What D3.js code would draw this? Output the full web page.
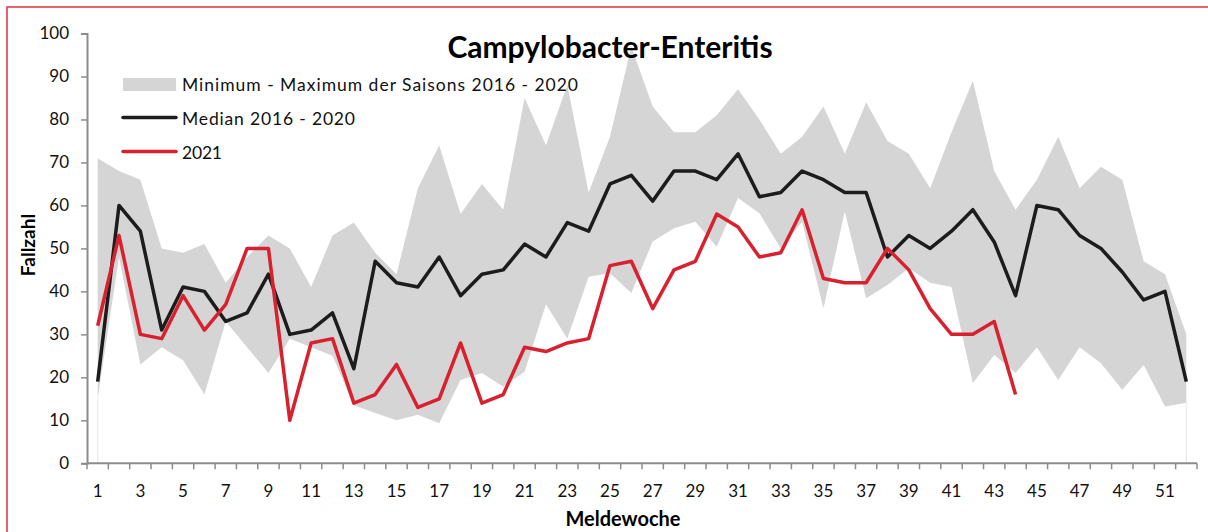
<!DOCTYPE html>
<html><head><meta charset="utf-8">
<script src="https://cdn.jsdelivr.net/npm/d3@7/dist/d3.min.js"></script>
<style>body{margin:0;background:#fff;}svg{display:block;}</style>
</head><body>
<script>
const weeks = d3.range(1, 53);
const tickLabels = weeks.filter(w => w % 2 === 1);
const maxValues = [71,68,66,50,49,51,42,48,53,50,41,53,56,49,44,64,74,58,65,59,85,74,88,63,76,97,83,77,77,81,87,80,72,76,83,72,84,75,72,64,77,89,68,59,66,76,64,69,66,47,44,30];
const minValues = [15,48,23,27,24,16,33,27,21,29,27,25,13.5,11.7,10,11.3,9.3,19.4,21,17.8,21.3,37,29,43.4,44.2,39.6,51.6,54.7,56.2,50.4,61.7,58.2,50,56.2,36,58.6,38.4,41.5,45.4,42,41,18.6,25.2,21,27,19.4,27,23.3,17.1,22.9,13.2,14.1];
const medianValues = [19,60,54,31,41,40,33,35,44,30,31,35,22,47,42,41,48,39,44,45,51,48,56,54,65,67,61,68,68,66,72,62,63,68,66,63,63,48,53,50,54,59,51.5,39,60,59,53,50,44.5,38,40,19];
const values2021 = [32,53,30,29,39,31,37,50,50,10,28,29,14,16,23,13,15,28,14,16,27,26,28,29,46,47,36,45,47,58,55,48,49,59,43,42,42,50,45,36,30,30,33,16];
const yTicks = d3.range(0, 101, 10);
const legendLabels = ["Minimum - Maximum der Saisons 2016 - 2020", "Median 2016 - 2020", "2021"];

const W = 1208, H = 532;
const svg = d3.select("body").append("svg").attr("width", W).attr("height", H);
const font = "Lato, 'Open Sans', sans-serif";

// border
svg.append("rect").attr("x", 7).attr("y", 7).attr("width", W + 10).attr("height", H + 10)
  .attr("fill", "none").attr("stroke", "#e0303f").attr("stroke-width", 1.5);

const x = d3.scaleBand().domain(weeks).range([87, 1197]).paddingInner(0).paddingOuter(0);
const xc = w => x(w) + x.bandwidth() / 2;
const y = d3.scaleLinear().domain([0, 100]).range([463.3, 33.5]);

// range area
const area = d3.area().x((d, i) => xc(weeks[i])).y0((d, i) => y(minValues[i])).y1((d, i) => y(maxValues[i]));
svg.append("path").datum(maxValues).attr("d", area).attr("fill", "#d5d5d5");
// faint end lines
[1, 52].forEach(w => {
  const i = weeks.indexOf(w);
  svg.append("line").attr("x1", xc(w)).attr("x2", xc(w)).attr("y1", y(0)).attr("y2", y(minValues[i]))
    .attr("stroke", "#e6e6e6").attr("stroke-width", 1);
});

// axes
const axisColor = "#8c8c8c";
const yAxis = svg.append("g").attr("transform", "translate(87,0)")
  .call(d3.axisLeft(y).tickValues(yTicks).tickSize(6).tickPadding(12));
const xAxis = svg.append("g").attr("transform", `translate(0,${y(0)})`);
xAxis.append("line").attr("x1", 87).attr("x2", 1197).attr("stroke", axisColor).attr("stroke-width", 2);
xAxis.selectAll("line.tk").data(weeks.concat([53])).enter().append("line")
  .attr("x1", w => w === 53 ? 1197 : x(w)).attr("x2", w => w === 53 ? 1197 : x(w))
  .attr("y1", 0).attr("y2", 6).attr("stroke", axisColor).attr("stroke-width", 1.5);
xAxis.selectAll("text").data(tickLabels).enter().append("text")
  .attr("x", w => xc(w)).attr("y", 34).attr("text-anchor", "middle")
  .attr("font-family", font).attr("font-size", 17).attr("fill", "#111").text(w => w);
yAxis.select(".domain").attr("stroke", axisColor).attr("stroke-width", 2);
yAxis.selectAll(".tick line").attr("stroke", axisColor).attr("stroke-width", 1.5);
yAxis.selectAll(".tick text").attr("font-family", font).attr("font-size", 17).attr("fill", "#111");

// lines
const line = d3.line().x((d, i) => xc(weeks[i])).y(d => y(d));
svg.append("path").datum(medianValues).attr("d", line).attr("fill", "none")
  .attr("stroke", "#1c1c1c").attr("stroke-width", 3.5).attr("stroke-linejoin", "round");
svg.append("path").datum(values2021).attr("d", line).attr("fill", "none")
  .attr("stroke", "#d9202f").attr("stroke-width", 3.5).attr("stroke-linejoin", "round");

// title
svg.append("text").attr("x", 610).attr("y", 58).attr("text-anchor", "middle")
  .attr("font-family", font).attr("font-weight", "bold").attr("font-size", 30).attr("fill", "#000")
  .text("Campylobacter-Enteritis");

// axis titles
svg.append("text").attr("transform", "translate(35,245) rotate(-90)").attr("text-anchor", "middle")
  .attr("font-family", font).attr("font-weight", "bold").attr("font-size", 19).attr("fill", "#000").text("Fallzahl");
svg.append("text").attr("x", 623).attr("y", 526).attr("text-anchor", "middle")
  .attr("font-family", font).attr("font-weight", "bold").attr("font-size", 20).attr("fill", "#000").text("Meldewoche");

// legend
const lg = svg.append("g");
lg.append("rect").attr("x", 123).attr("y", 78).attr("width", 53).attr("height", 13).attr("fill", "#d5d5d5");
lg.append("line").attr("x1", 123).attr("x2", 176).attr("y1", 117.5).attr("y2", 117.5).attr("stroke", "#1c1c1c").attr("stroke-width", 3.5).attr("stroke-linecap", "round");
lg.append("line").attr("x1", 123).attr("x2", 176).attr("y1", 151.5).attr("y2", 151.5).attr("stroke", "#d9202f").attr("stroke-width", 3.5).attr("stroke-linecap", "round");
const lw = [396, 173, 40];
const ly = [91, 124.5, 158.5];
legendLabels.forEach((t, i) => {
  lg.append("text").attr("x", 182).attr("y", ly[i]).attr("font-family", font).attr("font-size", 17.5)
    .attr("fill", "#111").attr("textLength", lw[i]).attr("lengthAdjust", "spacing").text(t);
});
</script>
</body></html>
